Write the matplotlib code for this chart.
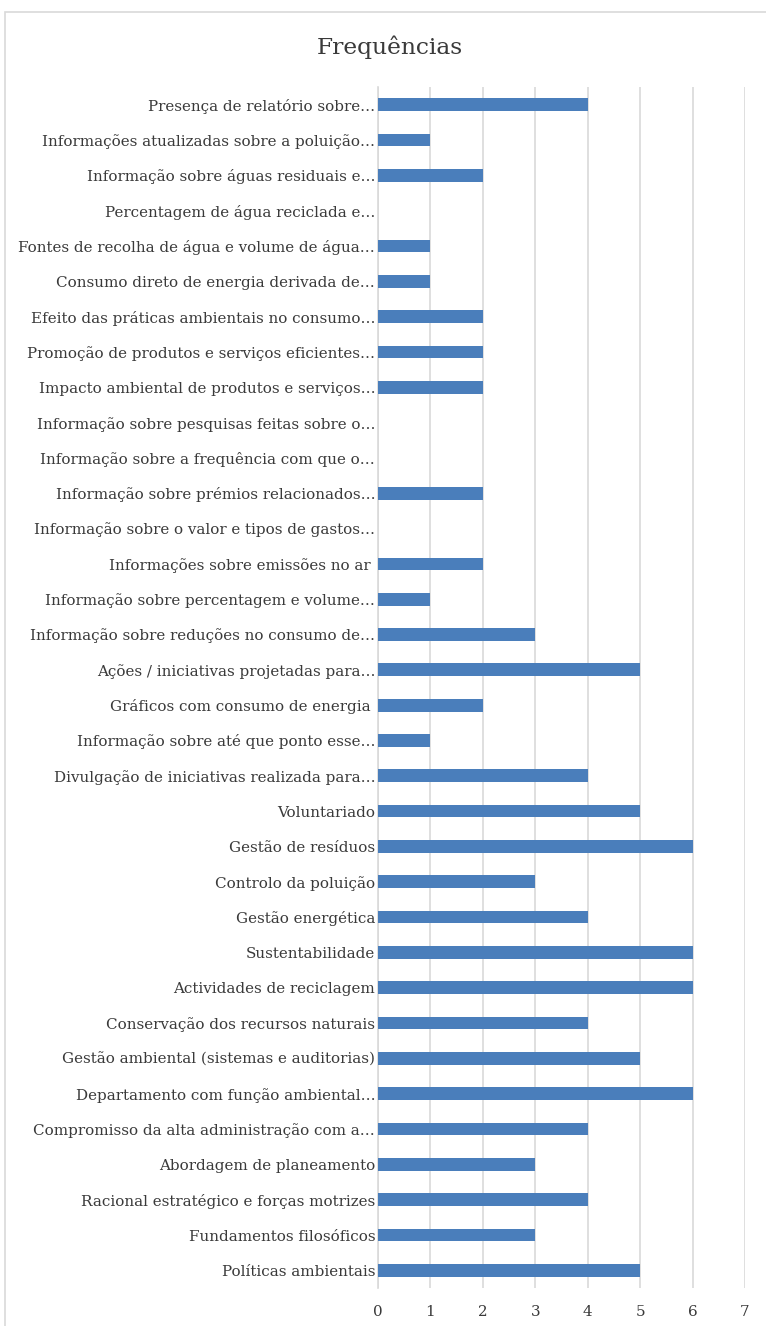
import matplotlib
matplotlib.use("Agg")
import matplotlib.pyplot as plt
from matplotlib.patches import Rectangle

# categories listed top to bottom, as in the chart
categories = [
    "Presença de relatório sobre…",
    "Informações atualizadas sobre a poluição…",
    "Informação sobre águas residuais e…",
    "Percentagem de água reciclada e…",
    "Fontes de recolha de água e volume de água…",
    "Consumo direto de energia derivada de…",
    "Efeito das práticas ambientais no consumo…",
    "Promoção de produtos e serviços eficientes…",
    "Impacto ambiental de produtos e serviços…",
    "Informação sobre pesquisas feitas sobre o…",
    "Informação sobre a frequência com que o…",
    "Informação sobre prémios relacionados…",
    "Informação sobre o valor e tipos de gastos…",
    "Informações sobre emissões no ar ",
    "Informação sobre percentagem e volume…",
    "Informação sobre reduções no consumo de…",
    "Ações / iniciativas projetadas para…",
    "Gráficos com consumo de energia ",
    "Informação sobre até que ponto esse…",
    "Divulgação de iniciativas realizada para…",
    "Voluntariado",
    "Gestão de resíduos",
    "Controlo da poluição",
    "Gestão energética",
    "Sustentabilidade",
    "Actividades de reciclagem",
    "Conservação dos recursos naturais",
    "Gestão ambiental (sistemas e auditorias)",
    "Departamento com função ambiental…",
    "Compromisso da alta administração com a…",
    "Abordagem de planeamento",
    "Racional estratégico e forças motrizes",
    "Fundamentos filosóficos",
    "Políticas ambientais",
]
frequencias = [4, 1, 2, 0, 1, 1, 2, 2, 2, 0, 0, 2, 0, 2, 1, 3, 5, 2, 1, 4,
               5, 6, 3, 4, 6, 6, 4, 5, 6, 4, 3, 4, 3, 5]
title = "Frequências"

plt.rcParams['font.family'] = ['DejaVu Serif']
text_col = '#3a3a3a'
bar_col = '#4a7ebb'

fig = plt.figure(figsize=(7.66, 13.26), dpi=100)

# chart border
fig.patches.append(Rectangle((5 / 766, -0.1), 1.1, 1 - 12 / 1326 + 0.1,
                             transform=fig.transFigure, fill=False,
                             edgecolor='#d9d9d9', linewidth=1.2))

ax = fig.add_axes([378 / 766, 1 - 1288 / 1326, 367 / 766, 1201 / 1326])

ypos = list(range(len(categories)))[::-1]
ax.barh(ypos, frequencias, height=0.36, color=bar_col, zorder=3)

ax.set_xlim(0, 7)
ax.set_ylim(-0.5, len(categories) - 0.5)
ax.set_xticks(range(8))
ax.set_yticks(ypos)
ax.set_yticklabels(categories)
ax.xaxis.grid(True, color='#d9d9d9', linewidth=1.2, zorder=0)
ax.tick_params(axis='both', length=0, colors=text_col, labelsize=10.9)
ax.tick_params(axis='x', pad=12)
ax.tick_params(axis='y', pad=2)
for s in ['top', 'right', 'bottom']:
    ax.spines[s].set_visible(False)
ax.spines['left'].set_color('#d9d9d9')
ax.spines['left'].set_linewidth(1.2)

fig.text(390 / 766, 1 - 47 / 1326, title, ha='center', va='center',
         fontsize=16.8, color=text_col)

fig.savefig("out.png", dpi=100)
